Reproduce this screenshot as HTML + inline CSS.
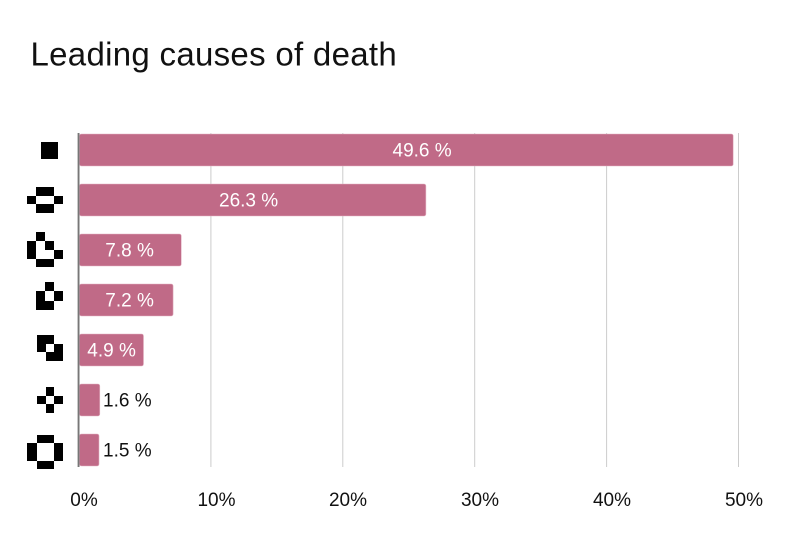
<!DOCTYPE html>
<html>
<head>
<meta charset="utf-8">
<style>
  html, body { margin:0; padding:0; background:#ffffff; }
  body { width:800px; height:533px; overflow:hidden; }
  svg { display:block; }
  text { font-family: "Liberation Sans", Arial, sans-serif; }
</style>
</head>
<body>
<svg width="800" height="533" viewBox="0 0 800 533" xmlns="http://www.w3.org/2000/svg">
  <rect width="800" height="533" fill="#ffffff"/>
  <!-- Title -->
  <text x="30.5" y="65.3" font-size="33" letter-spacing="0.3" fill="#111">Leading causes of death</text>

  <!-- gridlines -->
  <g stroke="#cccccc" stroke-width="1">
    <line x1="210.9" y1="133" x2="210.9" y2="467"/>
    <line x1="342.8" y1="133" x2="342.8" y2="467"/>
    <line x1="474.7" y1="133" x2="474.7" y2="467"/>
    <line x1="606.6" y1="133" x2="606.6" y2="467"/>
    <line x1="738.5" y1="133" x2="738.5" y2="467"/>
  </g>

  <!-- bars -->
  <g fill="#c06a87" stroke="#e3b4c4" stroke-width="0.6">
    <rect x="79.5" y="134" width="653.7" height="32" rx="2"/>
    <rect x="79.5" y="184" width="346.4" height="32" rx="2"/>
    <rect x="79.5" y="234" width="101.8" height="32" rx="2"/>
    <rect x="79.5" y="284" width="93.6" height="32" rx="2"/>
    <rect x="79.5" y="334" width="64" height="32" rx="2"/>
    <rect x="79.5" y="384" width="20.3" height="32" rx="2"/>
    <rect x="79.5" y="434" width="19.5" height="32" rx="2"/>
  </g>

  <!-- axis line -->
  <rect x="77.6" y="133" width="1.9" height="334" fill="#777777"/>

  <!-- bar labels -->
  <g font-size="19">
    <text x="392.5" y="156.7" fill="#ffffff">49.6 %</text>
    <text x="219" y="206.7" fill="#ffffff">26.3 %</text>
    <text x="105.3" y="256.7" fill="#ffffff">7.8 %</text>
    <text x="105.3" y="306.7" fill="#ffffff">7.2 %</text>
    <text x="87.3" y="356.7" fill="#ffffff">4.9 %</text>
    <text x="103" y="406.7" fill="#111111">1.6 %</text>
    <text x="103" y="456.7" fill="#111111">1.5 %</text>
  </g>

  <!-- x tick labels -->
  <g font-size="19" fill="#111111" text-anchor="middle">
    <text x="84" y="506">0%</text>
    <text x="216.5" y="506">10%</text>
    <text x="348" y="506">20%</text>
    <text x="480" y="506">30%</text>
    <text x="612" y="506">40%</text>
    <text x="744" y="506">50%</text>
  </g>

  <!-- icons -->
  <g fill="#000000" shape-rendering="crispEdges">
    <!-- icon 1 -->
    <rect x="41" y="142" width="17" height="17"/>
    <!-- icon 2 -->
    <rect x="36" y="187" width="18" height="9"/>
    <rect x="27" y="196" width="9" height="8"/>
    <rect x="54" y="196" width="9" height="8"/>
    <rect x="36" y="204" width="18" height="9"/>
    <!-- icon 3 -->
    <rect x="36" y="232" width="9" height="9"/>
    <rect x="27" y="241" width="9" height="18"/>
    <rect x="45" y="241" width="9" height="9"/>
    <rect x="54" y="250" width="9" height="9"/>
    <rect x="36" y="259" width="18" height="8"/>
    <!-- icon 4 -->
    <rect x="45" y="282" width="9" height="9"/>
    <rect x="36" y="291" width="9" height="10"/>
    <rect x="54" y="291" width="9" height="10"/>
    <rect x="36" y="301" width="18" height="9"/>
    <!-- icon 5 -->
    <rect x="37" y="335" width="17" height="9"/>
    <rect x="37" y="344" width="9" height="8"/>
    <rect x="54" y="344" width="9" height="8"/>
    <rect x="46" y="352" width="17" height="9"/>
    <!-- icon 6 -->
    <rect x="46" y="387" width="8" height="9"/>
    <rect x="37" y="396" width="9" height="8"/>
    <rect x="54" y="396" width="9" height="8"/>
    <rect x="46" y="404" width="8" height="9"/>
    <!-- icon 7 -->
    <rect x="37" y="435" width="17" height="8"/>
    <rect x="27" y="443" width="10" height="18"/>
    <rect x="54" y="443" width="9" height="18"/>
    <rect x="37" y="461" width="17" height="8"/>
  </g>
</svg>
</body>
</html>
